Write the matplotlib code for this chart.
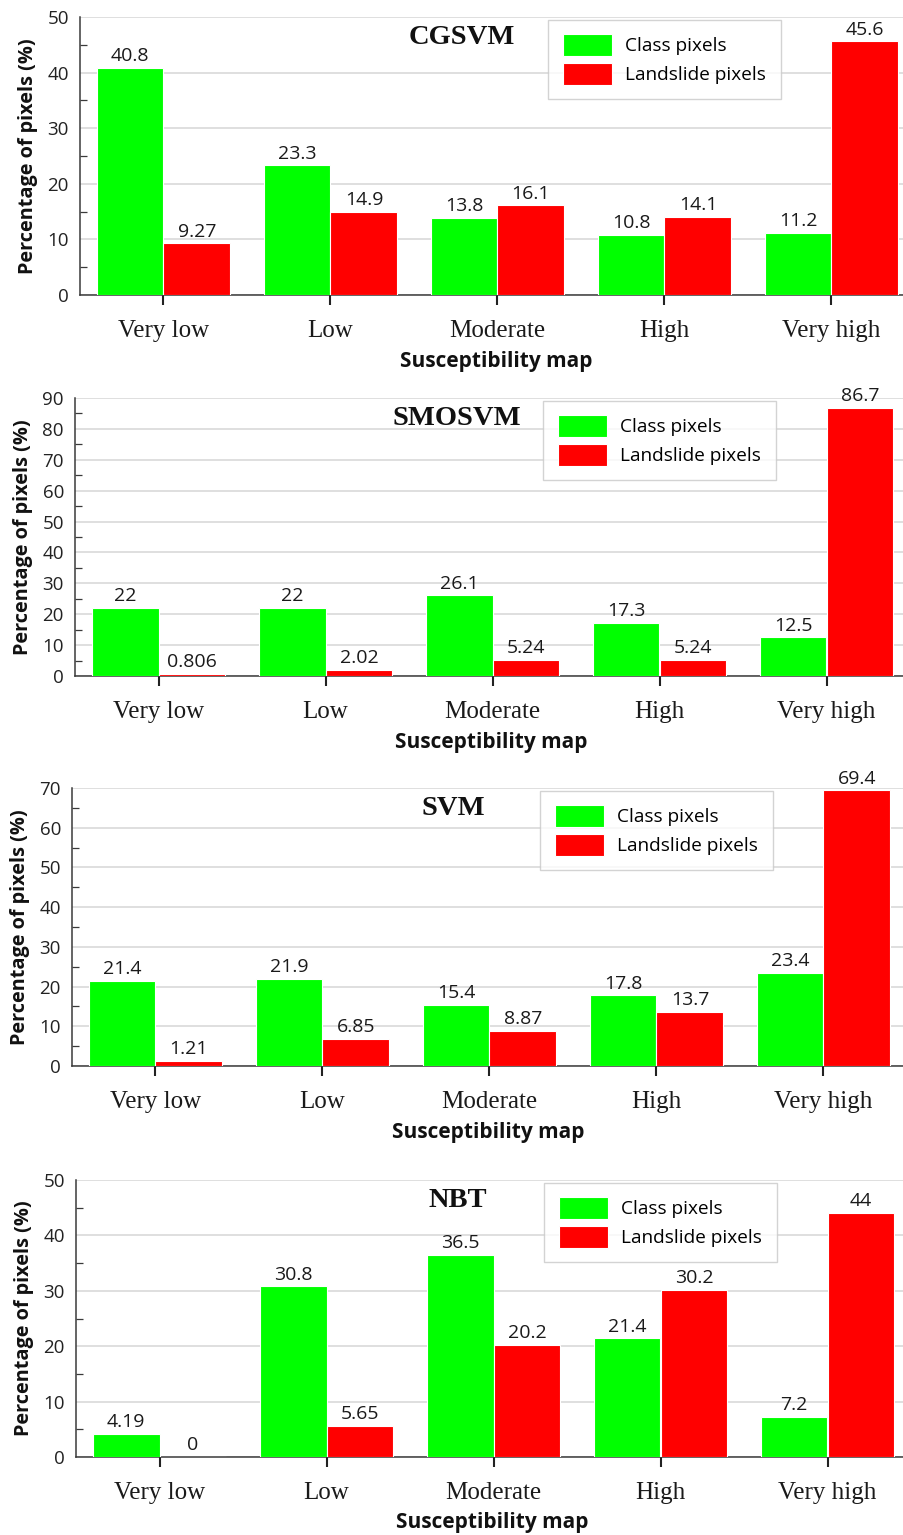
import numpy as np
import matplotlib
matplotlib.use("Agg")
import matplotlib.pyplot as plt
from matplotlib.ticker import MultipleLocator

# Data
categories = ["Very low", "Low", "Moderate", "High", "Very high"]
titles = ["CGSVM", "SMOSVM", "SVM", "NBT"]
class_pixels = [
    [40.8, 23.3, 13.8, 10.8, 11.2],
    [22, 22, 26.1, 17.3, 12.5],
    [21.4, 21.9, 15.4, 17.8, 23.4],
    [4.19, 30.8, 36.5, 21.4, 7.2],
]
landslide_pixels = [
    [9.27, 14.9, 16.1, 14.1, 45.6],
    [0.806, 2.02, 5.24, 5.24, 86.7],
    [1.21, 6.85, 8.87, 13.7, 69.4],
    [0, 5.65, 20.2, 30.2, 44],
]
y_max = [50, 90, 70, 50]

SANS = "Open Sans"
SERIF = "Liberation Serif"
GREEN = "#00ff00"
RED = "#ff0000"

W, H = 904, 1535
fig = plt.figure(figsize=(W / 100, H / 100), dpi=100)

# pixel layout of each panel: left spine x, y of top, y of zero line
panel_px = [(80, 17, 295), (75, 398, 676), (72, 788, 1066), (76, 1180, 1457)]
group_px = 167

x = np.arange(len(categories))
bw = 0.4

for i, (left, top, bot) in enumerate(panel_px):
    ax = fig.add_axes([left / W, 1 - bot / H, 5 * group_px / W, (bot - top) / H])

    b1 = ax.bar(x - bw / 2, class_pixels[i], bw, color=GREEN, edgecolor="white",
                linewidth=0.8, label="Class pixels", zorder=3)
    b2 = ax.bar(x + bw / 2, landslide_pixels[i], bw, color=RED, edgecolor="white",
                linewidth=0.8, label="Landslide pixels", zorder=3)
    for bars in (b1, b2):
        ax.bar_label(bars, fmt="%g", padding=2, fontsize=14, family=SANS,
                     color="#1a1a1a", zorder=4)

    ax.set_xlim(-0.5, 4.5)
    ax.set_ylim(0, y_max[i])
    ax.yaxis.set_major_locator(MultipleLocator(10))
    ax.yaxis.set_minor_locator(MultipleLocator(5))
    ax.grid(axis="y", which="major", color="#d9d9d9", linewidth=1.2, zorder=0)
    ax.set_axisbelow(True)

    for s in ("top", "right"):
        ax.spines[s].set_visible(False)
    for s in ("left", "bottom"):
        ax.spines[s].set_color("#3a3a3a")
        ax.spines[s].set_linewidth(1.1)
        ax.spines[s].set_zorder(1)

    ax.tick_params(axis="y", which="major", length=0, pad=8, labelsize=13.5,
                   labelcolor="#222222")
    ax.tick_params(axis="y", which="minor", direction="in", length=5,
                   width=0.9, color="#3a3a3a")
    ax.tick_params(axis="x", which="major", direction="out", length=7,
                   width=1.5, color="#222222", pad=11)
    for lab in ax.get_yticklabels():
        lab.set_family(SANS)

    ax.set_xticks(x)
    ax.set_xticklabels(categories, family=SERIF, fontsize=18, color="#1a1a1a")

    ax.set_xlabel("Susceptibility map", family=SANS, fontweight="bold",
                  fontsize=15, color="#111111")
    ax.xaxis.set_label_coords(0.499, -0.2)
    ax.set_ylabel("Percentage of pixels (%)", family=SANS, fontweight="bold",
                  fontsize=14.3, color="#111111")
    ax.yaxis.set_label_coords(-0.05, 0.5)

    ax.text(0.457, 0.926, titles[i], transform=ax.transAxes, ha="center",
            va="center", family=SERIF, fontweight="bold", fontsize=20.5,
            color="#111111", zorder=5)

    leg = ax.legend(loc="upper left", bbox_to_anchor=(0.561, 0.989),
                    borderaxespad=0, frameon=True, fancybox=False,
                    prop={"family": SANS, "size": 13.7},
                    handlelength=2.6, handleheight=1.35, handletextpad=0.7,
                    labelspacing=0.4, borderpad=0.75)
    leg.get_frame().set_edgecolor("#c8c8c8")
    leg.get_frame().set_linewidth(1.0)
    leg.set_zorder(6)

fig.savefig("out.png", dpi=100)
